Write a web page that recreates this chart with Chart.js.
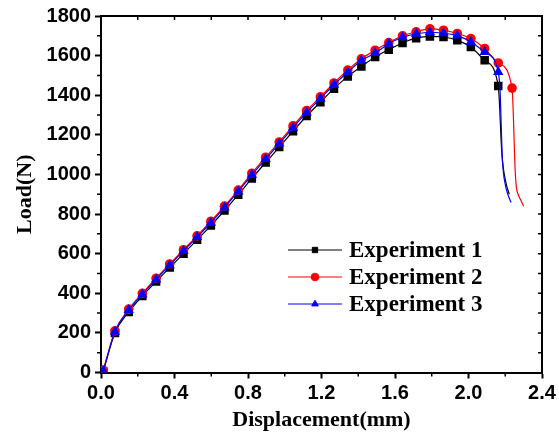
<!DOCTYPE html>
<html>
<head>
<meta charset="utf-8">
<script src="https://cdn.jsdelivr.net/npm/chart.js@4.4.1/dist/chart.umd.min.js"></script>
<style>
  body { margin: 0; background: #fff; }
</style>
</head>
<body>
<canvas id="load-chart" width="559" height="437"></canvas>
<script>
// displacement (mm) of each plotted symbol, shared by the three runs
const markerDisp = [0.012, 0.076, 0.151, 0.225, 0.300, 0.374, 0.449, 0.523, 0.598, 0.672,
  0.747, 0.821, 0.896, 0.970, 1.045, 1.119, 1.194, 1.268, 1.343, 1.417,
  1.492, 1.566, 1.641, 1.715, 1.790, 1.864, 1.939, 2.013, 2.088, 2.162, 2.237];

// load (N) at each symbol
const exp1Load = [5, 200, 306, 386, 460, 530, 600, 670, 742, 818,
  898, 980, 1060, 1138, 1218, 1295, 1365, 1433, 1495, 1545,
  1593, 1630, 1664, 1688, 1697, 1694, 1677, 1643, 1576, 1447];
const exp2Load = [12, 210, 320, 400, 476, 548, 620, 690, 764, 840,
  921, 1006, 1087, 1164, 1245, 1322, 1392, 1462, 1527, 1584,
  1627, 1666, 1700, 1720, 1735, 1728, 1712, 1686, 1636, 1563, 1436];
const exp3Load = [8, 206, 315, 394, 470, 542, 614, 684, 756, 833,
  914, 998, 1078, 1156, 1236, 1313, 1383, 1453, 1516, 1575,
  1613, 1660, 1693, 1710, 1718, 1713, 1701, 1669, 1618, 1517];

// failure tails after the last symbol (line only)
const exp1TailDisp = [2.170, 2.176, 2.182, 2.190, 2.200, 2.210, 2.222];
const exp1TailLoad = [1330, 1200, 1100, 1030, 975, 935, 900];
const exp2TailDisp = [2.244, 2.249, 2.253, 2.260, 2.270, 2.285, 2.300];
const exp2TailLoad = [1300, 1150, 1040, 940, 900, 870, 840];
const exp3TailDisp = [2.172, 2.178, 2.183, 2.190, 2.200, 2.212, 2.222, 2.232];
const exp3TailLoad = [1420, 1250, 1100, 1010, 950, 905, 880, 858];

const seriesNames = ["Experiment 1", "Experiment 2", "Experiment 3"];
const xTicks = [0.0, 0.4, 0.8, 1.2, 1.6, 2.0, 2.4];
const yTicks = [0, 200, 400, 600, 800, 1000, 1200, 1400, 1600, 1800];

function buildPoints(load, tailDisp, tailLoad) {
  const pts = load.map((v, i) => ({ x: markerDisp[i], y: v }));
  tailDisp.forEach((d, i) => pts.push({ x: d, y: tailLoad[i] }));
  return pts;
}

function radii(load, tailDisp, r) {
  return load.map(() => r).concat(tailDisp.map(() => 0));
}

const series = [
  { name: seriesNames[0], color: "#000000", style: "rect", order: 3,
    data: buildPoints(exp1Load, exp1TailDisp, exp1TailLoad), radius: radii(exp1Load, exp1TailDisp, 6) },
  { name: seriesNames[1], color: "#ff0000", style: "circle", order: 2,
    data: buildPoints(exp2Load, exp2TailDisp, exp2TailLoad), radius: radii(exp2Load, exp2TailDisp, 4.8) },
  { name: seriesNames[2], color: "#0000ff", style: "triangle", order: 1,
    data: buildPoints(exp3Load, exp3TailDisp, exp3TailLoad), radius: radii(exp3Load, exp3TailDisp, 6) }
];

// top/right frame plus minor ticks
const framePlugin = {
  id: "frame",
  afterDraw(chart) {
    const { ctx, chartArea: a, scales } = chart;
    const xs = scales.x, ys = scales.y;
    ctx.save();
    ctx.strokeStyle = "#000";
    ctx.lineWidth = 2;
    ctx.beginPath();
    ctx.moveTo(a.left, a.top);
    ctx.lineTo(a.right, a.top);
    ctx.lineTo(a.right, a.bottom);
    ctx.stroke();

    ctx.lineWidth = 1.5;
    ctx.beginPath();
    for (let i = 1; i < 12; i++) {
      const px = xs.getPixelForValue(i * 0.2);
      if (i % 2 === 1) {
        ctx.moveTo(px, a.bottom);
        ctx.lineTo(px, a.bottom + 4);
      }
      ctx.moveTo(px, a.top);
      ctx.lineTo(px, a.top + 4);
    }
    for (let i = 1; i < 18; i++) {
      const py = ys.getPixelForValue(i * 100);
      if (i % 2 === 1) {
        ctx.moveTo(a.left, py);
        ctx.lineTo(a.left - 4, py);
      }
      ctx.moveTo(a.right, py);
      ctx.lineTo(a.right - 4, py);
    }
    ctx.stroke();
    ctx.restore();
  }
};

// legend: short line with symbol, then label
const legendPlugin = {
  id: "expLegend",
  afterDraw(chart) {
    const ctx = chart.ctx;
    const rows = [250, 277, 304];
    ctx.save();
    series.forEach((s, i) => {
      const y = rows[i];
      ctx.strokeStyle = s.color;
      ctx.fillStyle = s.color;
      ctx.lineWidth = 1;
      ctx.beginPath();
      ctx.moveTo(288, y);
      ctx.lineTo(342, y);
      ctx.stroke();
      Chart.helpers.drawPoint(ctx, { pointStyle: s.style, radius: 3.8, rotation: 0, borderWidth: 1 }, 315, y);
      ctx.fillStyle = "#000";
      ctx.font = "bold 23px 'Liberation Serif', 'Times New Roman', serif";
      ctx.textBaseline = "middle";
      ctx.textAlign = "left";
      ctx.fillText(s.name, 349, y + 1);
    });
    ctx.restore();
  }
};

const tickFont = { family: "'Liberation Sans', Arial, sans-serif", size: 20, weight: "bold" };
const titleFont = { family: "'Liberation Serif', 'Times New Roman', serif", size: 22, weight: "bold" };

new Chart(document.getElementById("load-chart").getContext("2d"), {
  type: "line",
  data: {
    datasets: series.map(s => ({
      label: s.name,
      data: s.data,
      order: s.order,
      borderColor: s.color,
      backgroundColor: s.color,
      borderWidth: 1.2,
      pointStyle: s.style,
      pointRadius: s.radius,
      pointBorderWidth: 0,
      cubicInterpolationMode: "monotone",
      fill: false
    }))
  },
  options: {
    responsive: false,
    animation: false,
    devicePixelRatio: 1,
    layout: { padding: { top: 15, right: 17, left: 0, bottom: 0 } },
    plugins: { legend: { display: false }, tooltip: { enabled: false } },
    scales: {
      x: {
        type: "linear",
        min: 0,
        max: 2.4,
        afterBuildTicks: scale => { scale.ticks = xTicks.map(v => ({ value: v })); },
        afterFit: scale => { scale.height = 64.5; },
        ticks: { color: "#000", font: tickFont, padding: 3, maxRotation: 0,
          callback: v => Number(v).toFixed(1) },
        grid: { drawOnChartArea: false, tickLength: 6, tickColor: "#000", tickWidth: 2 },
        border: { color: "#000", width: 2 },
        title: { display: true, text: "Displacement(mm)", color: "#000", font: titleFont,
          padding: { top: 0, bottom: 3 } }
      },
      y: {
        type: "linear",
        min: 0,
        max: 1800,
        afterBuildTicks: scale => { scale.ticks = yTicks.map(v => ({ value: v })); },
        afterFit: scale => { scale.width = 101; },
        ticks: { color: "#000", font: tickFont, padding: 4, callback: v => String(v) },
        grid: { drawOnChartArea: false, tickLength: 6, tickColor: "#000", tickWidth: 2 },
        border: { color: "#000", width: 2 },
        title: { display: true, text: "Load(N)", color: "#000", font: titleFont,
          padding: { top: 12, bottom: 0 } }
      }
    }
  },
  plugins: [framePlugin, legendPlugin]
});
</script>
</body>
</html>
